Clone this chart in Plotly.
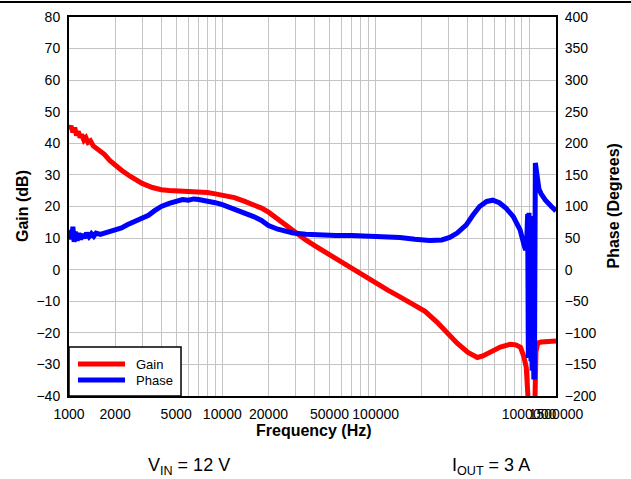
import plotly.graph_objects as go
import math

# ---------------- data ----------------
gain_freq = [1000, 1030, 1060, 1090, 1120, 1150, 1180, 1210, 1250, 1290, 1330, 1380,
             1440, 1500, 1600, 1700, 1850, 2000, 2200, 2500, 2800, 3000, 3500, 4000,
             4500, 5000, 6000, 7000, 8000, 9000, 10000, 12000, 14000, 16000, 18000,
             20000, 23000, 26000, 30000, 35000, 40000, 48000, 60000, 72000, 85000,
             100000, 120000, 144000, 177000, 210000, 250000, 292000, 340000, 400000,
             461000, 500000, 560000, 650000, 756000, 820000, 880000, 925000, 960000,
             985000, 1000000, 1060000, 1095000, 1110000, 1140000, 1200000, 1300000,
             1500000]
gain_db = [44.5, 45.5, 43.5, 45.0, 42.5, 43.8, 41.8, 42.8, 41.0, 41.8, 40.3, 40.8,
           39.2, 38.6, 37.6, 36.5, 34.5, 33.0, 31.5, 29.6, 28.2, 27.3, 26.0, 25.3,
           25.1, 25.0, 24.8, 24.6, 24.4, 24.0, 23.5, 22.8, 21.6, 20.5, 19.5,
           18.2, 16.0, 14.0, 11.5, 9.4, 7.6, 5.2, 2.2, -0.1, -2.4,
           -4.3, -6.5, -8.6, -10.9, -13.2, -16.5, -20.0, -23.3, -26.2,
           -27.8, -27.3, -26.0, -24.5, -23.6, -23.8, -24.6, -27.5, -31.0,
           -40.5, -46.0, -46.0, -40.0, -26.0, -23.2, -22.9, -22.7,
           -22.6]

phase_freq = [1000, 1020, 1040, 1060, 1080, 1100, 1130, 1160, 1190, 1220, 1260, 1300,
              1350, 1400, 1450, 1500, 1600, 1700, 1850, 2000, 2200, 2400, 2700, 3000,
              3300, 3600, 4000, 4500, 5000, 5500, 6000, 6500, 7000, 8000, 9000, 10000,
              12000, 14000, 16000, 18000, 20000, 23000, 26000, 29000, 35000, 41000,
              55000, 70000, 100000, 144000, 180000, 225000, 270000, 304000, 340000,
              390000, 430000, 476000, 530000, 580000, 640000, 710000, 790000, 875000,
              930000, 950000, 965000, 980000, 990000, 1000000, 1010000, 1020000,
              1030000, 1040000, 1050000, 1065000, 1075000, 1085000, 1100000, 1120000,
              1140000, 1160000, 1200000, 1280000, 1400000, 1500000]
phase_deg = [55, 62, 48, 68, 44, 60, 46, 58, 48, 56, 50, 58,
             52, 57, 53, 58, 56, 58, 60, 62, 66, 71, 76, 80,
             86, 93, 100, 105, 109, 111, 110, 112, 111, 109, 106, 103,
             96, 90, 84, 78, 70, 64, 60, 58, 56, 55,
             54, 54, 53, 51, 48, 46, 47, 51, 58,
             71, 86, 100, 108, 110, 106, 97, 84, 63,
             38, 31, 40, 88, -140, 90, -130, 85,
             -145, 80, -160, 75, -170, -170, 169, 150,
             136, 128, 120, 110, 100, 93]

x_tick_vals = [1000, 2000, 3000, 4000, 5000, 6000, 7000, 8000, 9000,
               10000, 20000, 30000, 40000, 50000, 60000, 70000, 80000, 90000,
               100000, 200000, 300000, 400000, 500000, 600000, 700000, 800000, 900000,
               1000000, 1500000]
x_tick_text = ["1000", "2000", "", "", "5000", "", "", "", "",
               "10000", "20000", "", "", "50000", "", "", "", "",
               "100000", "", "", "", "", "", "", "", "",
               "1000000", "1500000"]

# ---------------- figure ----------------
FONT = "Liberation Sans, Arial, sans-serif"

fig = go.Figure()
fig.add_trace(go.Scatter(x=gain_freq, y=gain_db, mode="lines", name="Gain",
                         line=dict(color="#ff0000", width=5), yaxis="y",
                         showlegend=False, cliponaxis=True))
fig.add_trace(go.Scatter(x=phase_freq, y=phase_deg, mode="lines", name="Phase",
                         line=dict(color="#0000ff", width=5), yaxis="y2",
                         showlegend=False, cliponaxis=True))

axis_common = dict(showline=True, linecolor="black", linewidth=2, zeroline=False,
                   ticks="outside", ticklen=4, tickcolor="rgba(0,0,0,0)",
                   automargin=False, tickangle=0,
                   tickfont=dict(family=FONT, size=14, color="black"))

fig.update_layout(
    width=631, height=479,
    margin=dict(l=69, r=75, t=17, b=83, autoexpand=False),
    paper_bgcolor="white", plot_bgcolor="white",
    font=dict(family=FONT, color="black"),
    xaxis=dict(type="log", range=[3, math.log10(1500000)],
               tickmode="array", tickvals=x_tick_vals, ticktext=x_tick_text,
               showgrid=True, gridcolor="#c4c4c4", gridwidth=1.2, mirror=True,
               **axis_common),
    yaxis=dict(range=[-40, 80], dtick=10, tick0=0, showgrid=True,
               gridcolor="#c4c4c4", gridwidth=1.2, **axis_common),
    yaxis2=dict(range=[-200, 400], dtick=50, tick0=0, overlaying="y", side="right",
                showgrid=False, **axis_common),
    showlegend=False,
)

# top rule line
fig.add_shape(type="line", xref="paper", yref="paper",
              x0=-0.2, x1=1.3, y0=(396 - 2) / 379, y1=(396 - 2) / 379,
              line=dict(color="black", width=2))

# legend box (manual)
fig.add_shape(type="rect", xref="paper", yref="paper",
              x0=0, x1=0.23, y0=0, y1=0.129,
              fillcolor="white", line=dict(color="black", width=1.5), layer="above")
fig.add_shape(type="line", xref="paper", yref="paper",
              x0=0.0185, x1=0.115, y0=0.0844, y1=0.0844,
              line=dict(color="#ff0000", width=5), layer="above")
fig.add_shape(type="line", xref="paper", yref="paper",
              x0=0.0185, x1=0.115, y0=0.0422, y1=0.0422,
              line=dict(color="#0000ff", width=5), layer="above")
fig.add_annotation(xref="paper", yref="paper", x=0.1335, y=0.0844, text="Gain",
                   showarrow=False, xanchor="left", yanchor="middle",
                   font=dict(family=FONT, size=13, color="black"))
fig.add_annotation(xref="paper", yref="paper", x=0.1335, y=0.0422, text="Phase",
                   showarrow=False, xanchor="left", yanchor="middle",
                   font=dict(family=FONT, size=13, color="black"))

# axis titles
fig.add_annotation(xref="paper", yref="paper", x=(22.5 - 69) / 487, y=(396 - 206.5) / 379,
                   text="<b>Gain (dB)</b>", textangle=-90, showarrow=False,
                   xanchor="center", yanchor="middle",
                   font=dict(family=FONT, size=16, color="black"))
fig.add_annotation(xref="paper", yref="paper", x=(613 - 69) / 487, y=(396 - 206.5) / 379,
                   text="<b>Phase (Degrees)</b>", textangle=-90, showarrow=False,
                   xanchor="center", yanchor="middle",
                   font=dict(family=FONT, size=16, color="black"))
fig.add_annotation(xref="paper", yref="paper", x=(314 - 69) / 487, y=(396 - 430) / 379,
                   text="<b>Frequency (Hz)</b>", showarrow=False,
                   xanchor="center", yanchor="middle",
                   font=dict(family=FONT, size=16, color="black"))

# condition labels
fig.add_annotation(xref="paper", yref="paper", x=(189 - 69) / 487, y=(396 - 466) / 379,
                   text="V<sub>IN</sub> = 12 V", showarrow=False,
                   xanchor="center", yanchor="middle",
                   font=dict(family=FONT, size=18, color="black"))
fig.add_annotation(xref="paper", yref="paper", x=(491 - 69) / 487, y=(396 - 466) / 379,
                   text="I<sub>OUT</sub> = 3 A", showarrow=False,
                   xanchor="center", yanchor="middle",
                   font=dict(family=FONT, size=18, color="black"))

fig.write_html("out.html",
               config={"displayModeBar": False},
               post_script="document.body.style.margin='0';document.body.style.overflow='hidden';")
